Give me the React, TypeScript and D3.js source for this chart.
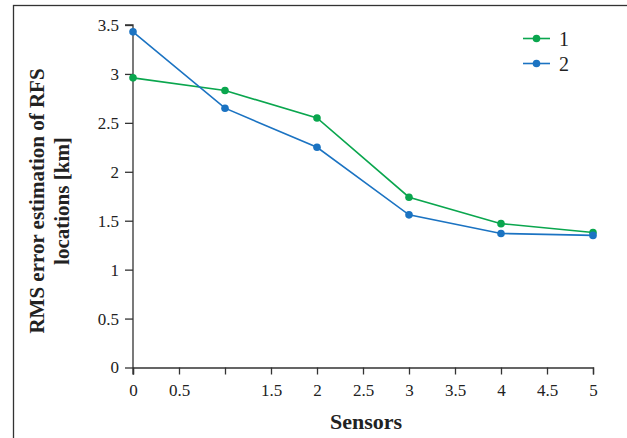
import React, { useEffect, useRef } from 'react';
import * as d3 from 'd3';

const sensors = [0, 1, 2, 3, 4, 5];
const series1 = [2.96, 2.83, 2.55, 1.74, 1.47, 1.38];
const series2 = [3.43, 2.65, 2.25, 1.56, 1.37, 1.35];
const seriesNames = ['1', '2'];
const xTicks = [0, 0.5, 1, 1.5, 2, 2.5, 3, 3.5, 4, 4.5, 5];
const yTicks = [0, 0.5, 1, 1.5, 2, 2.5, 3, 3.5];

const colors = ['#0aa64e', '#1b73c2'];
const W = 627;
const H = 438;
const font = '"Liberation Serif", "DejaVu Serif", serif';

function App() {
    const ref = useRef<SVGSVGElement>(null);

    useEffect(() => {
        const svg = d3.select(ref.current);
        svg.selectAll('*').remove();

        const x = d3.scaleLinear().domain([0, 5]).range([133, 593]);
        const y = d3.scaleLinear().domain([0, 3.5]).range([367.5, 25]);

        // frame round the figure
        svg.append('rect')
            .attr('x', 13.5).attr('y', 5.5)
            .attr('width', 800).attr('height', 600)
            .attr('fill', 'none').attr('stroke', '#333').attr('stroke-width', 1.3);

        const xAxis = svg.append('g')
            .attr('transform', `translate(0,${y(0)})`)
            .call(d3.axisBottom(x).tickValues(xTicks).tickSize(7).tickPadding(9)
                .tickFormat((d) => (d === 1 ? '' : String(d))));
        const yAxis = svg.append('g')
            .attr('transform', `translate(${x(0)},0)`)
            .call(d3.axisLeft(y).tickValues(yTicks).tickSize(8).tickPadding(6)
                .tickFormat((d) => String(d)));

        [xAxis, yAxis].forEach((g) => {
            g.select('.domain').attr('stroke', '#333').attr('stroke-width', 1.3);
            g.selectAll('.tick line').attr('stroke', '#333').attr('stroke-width', 1.3);
            g.selectAll('.tick text')
                .attr('fill', '#222')
                .style('font-family', font)
                .style('font-size', '17px');
        });
        // let the y axis run a bit below the x axis, as in the picture
        yAxis.select('.domain').attr('d', `M-8,${y(3.5)}H0V${y(0) + 7}`);

        svg.append('text')
            .attr('x', 366).attr('y', 429)
            .attr('text-anchor', 'middle')
            .style('font-family', font).style('font-size', '22px').style('font-weight', 'bold')
            .attr('fill', '#222')
            .text('Sensors');

        const yTitle = svg.append('text')
            .attr('transform', 'translate(44,201) rotate(-90)')
            .attr('text-anchor', 'middle')
            .style('font-family', font).style('font-size', '21px').style('font-weight', 'bold')
            .attr('fill', '#222');
        yTitle.append('tspan').attr('x', 0).attr('dy', 0).text('RMS error estimation of RFS');
        yTitle.append('tspan').attr('x', 0).attr('dy', 25).text('locations [km]');

        const line = d3.line<number>()
            .x((d, i) => x(sensors[i]))
            .y((d) => y(d));

        [series1, series2].forEach((values, k) => {
            svg.append('path')
                .attr('d', line(values))
                .attr('fill', 'none')
                .attr('stroke', colors[k])
                .attr('stroke-width', 1.6);
            svg.selectAll(null)
                .data(values)
                .enter()
                .append('circle')
                .attr('cx', (d, i) => x(sensors[i]))
                .attr('cy', (d) => y(d))
                .attr('r', 3.8)
                .attr('fill', colors[k]);
        });

        // legend
        const legend = svg.append('g');
        seriesNames.forEach((name, k) => {
            const ly = 38.5 + k * 25;
            legend.append('line')
                .attr('x1', 523).attr('x2', 550).attr('y1', ly).attr('y2', ly)
                .attr('stroke', colors[k]).attr('stroke-width', 1.6);
            legend.append('circle')
                .attr('cx', 536.5).attr('cy', ly).attr('r', 3.8).attr('fill', colors[k]);
            legend.append('text')
                .attr('x', 559).attr('y', ly + 7)
                .style('font-family', font).style('font-size', '20px')
                .attr('fill', '#222')
                .text(name);
        });
    }, []);

    return (
        <svg
            ref={ref}
            width={W}
            height={H}
            style={{ position: 'fixed', left: 0, top: 0, background: '#fff' }}
        />
    );
}

export default App;
